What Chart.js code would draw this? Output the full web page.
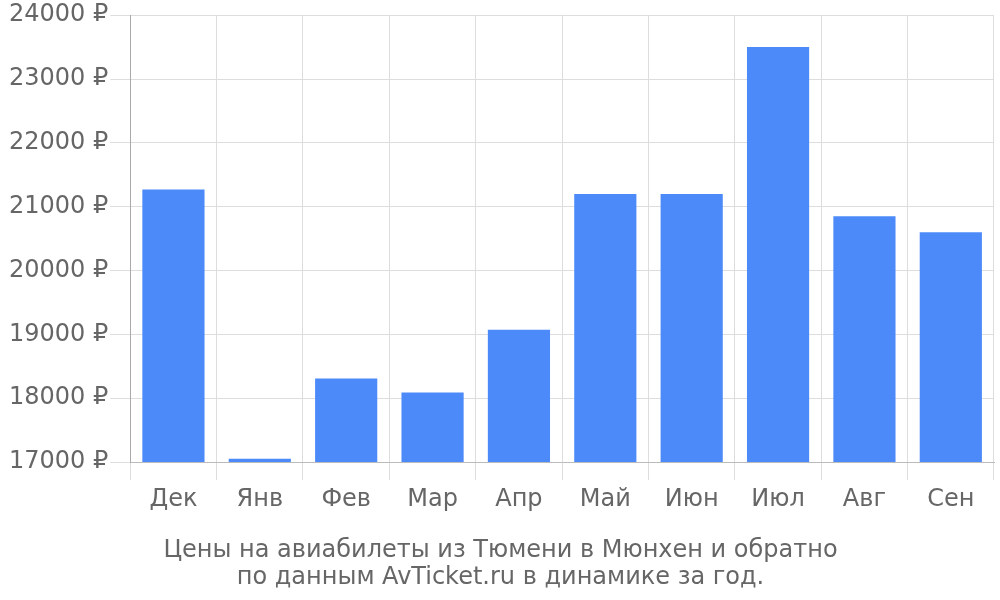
<!DOCTYPE html>
<html>
<head>
<meta charset="utf-8">
<script src="https://cdn.jsdelivr.net/npm/chart.js@4"></script>
<style>
  html,body{margin:0;padding:0;background:#fff;}
  #wrap{width:1000px;height:600px;}
</style>
</head>
<body>
<div id="wrap"><canvas id="chart"></canvas></div>
<script>
const months = ["Дек","Янв","Фев","Мар","Апр","Май","Июн","Июл","Авг","Сен"];
const prices = [21270,17050,18310,18090,19070,21200,21200,23500,20850,20600];
const titleLines = ["Цены на авиабилеты из Тюмени в Мюнхен и обратно","по данным AvTicket.ru в динамике за год."];

Chart.defaults.font.family = "'DejaVu Sans', sans-serif";
Chart.defaults.color = "#666";

new Chart(document.getElementById("chart"),{
  type:'bar',
  data:{labels:months,datasets:[{data:prices,backgroundColor:'#4d8af9',borderWidth:0}]},
  options:{
    responsive:true,
    maintainAspectRatio:false,
    animation:false,
    layout:{padding:{top:0,right:6,left:7,bottom:0}},
    plugins:{
      legend:{display:false},
      tooltip:{enabled:false},
      title:{display:true,position:'bottom',text:titleLines,color:'#666',
        font:{size:24,weight:'normal',lineHeight:1.15},padding:{top:18,bottom:8}}
    },
    scales:{
      x:{
        grid:{color:'#ddd',tickLength:18,offset:true},
        border:{color:'#bbb'},
        ticks:{font:{size:24},color:'#666',padding:5}
      },
      y:{
        min:17000,max:24000,
        grid:{color:'#ddd',tickLength:20},
        border:{color:'#aaa'},
        ticks:{stepSize:1000,font:{size:24,lineHeight:1.1},color:'#666',padding:2,callback:v=>v+' ₽'}
      }
    }
  }
});
</script>
</body>
</html>
